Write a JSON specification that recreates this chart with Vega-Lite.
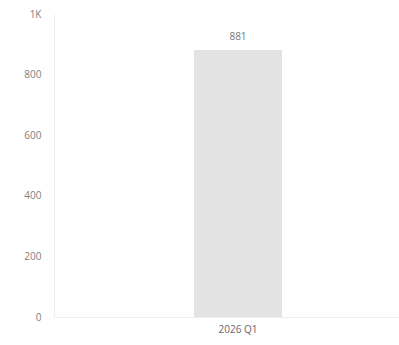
{
  "$schema": "https://vega.github.io/schema/vega-lite/v6.json",
  "width": 345,
  "height": 303,
  "autosize": {"type": "none"},
  "padding": {"left": 54, "top": 14, "right": 0, "bottom": 28},
  "background": "#ffffff",
  "config": {
    "view": {"stroke": null},
    "font": "Open Sans",
    "axis": {
      "labelFont": "Open Sans",
      "labelFontSize": 10,
      "labelColor": "#808080",
      "domainColor": "#eeeeee",
      "ticks": false,
      "grid": false,
      "title": null
    }
  },
  "data": {"values": [{"quarter": "2026 Q1", "value": 881}]},
  "encoding": {
    "x": {
      "field": "quarter",
      "type": "nominal",
      "scale": {"range": [0, 368]},
      "axis": {"labelAngle": 0, "labelPadding": 7, "labelColor": "#666666"}
    },
    "y": {
      "field": "value",
      "type": "quantitative",
      "scale": {"domain": [0, 1000]},
      "axis": {
        "values": [0, 200, 400, 600, 800, 1000],
        "labelPadding": 13,
        "labelExpr": "datum.value >= 1000 ? format(datum.value / 1000, 'd') + 'K' : datum.label"
      }
    }
  },
  "layer": [
    {"mark": {"type": "bar", "color": "#e3e3e3", "width": 88}},
    {
      "mark": {"type": "text", "dy": -8, "baseline": "bottom", "fontSize": 10, "color": "#777777"},
      "encoding": {"text": {"field": "value", "type": "quantitative"}}
    }
  ]
}
